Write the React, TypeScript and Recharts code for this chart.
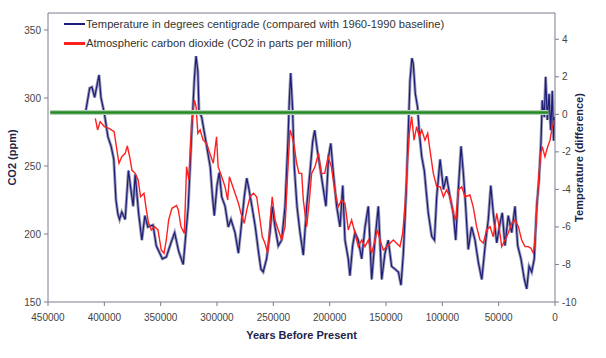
import { LineChart, Line, XAxis, YAxis, ReferenceLine } from "recharts";

// temperature difference vs 1960-1990 baseline (deg C), by years before present
const tempYears = [
  417000, 413000, 411000, 408600, 404700, 403000, 400000, 396800, 394000, 391600,
  389700, 388000, 386500, 384500, 381500, 378600, 376000, 374400, 372600, 369600,
  366700, 364000, 361400, 356800, 353900, 348500, 345000, 340600, 337600, 334000,
  330000, 325500, 322500, 320000, 318600, 317000, 316000, 313600, 310000, 306000,
  304000, 302400, 300000, 298000, 295800, 292800, 290000, 287600, 284000, 281000,
  278700, 275800, 273600, 271600, 269000, 266000, 263000, 261000, 259000, 256000,
  253000, 251000, 248500, 245600, 242600, 239600, 237000, 235800, 234600, 233000,
  231400, 229000, 226300, 223400, 220400, 217500, 215000, 213300, 211000, 208600,
  205600, 203300, 201000, 199000, 196800, 193800, 190800, 188400, 186400, 183500,
  182000, 179600, 177500, 174600, 171600, 168600, 165700, 162700, 159800, 156800,
  153800, 150900, 148000, 145000, 142000, 139000, 136700, 134600, 132000, 130000,
  128700, 127000, 125800, 124000, 122000, 120400, 118300, 116000, 112500, 109400,
  107000, 105000, 102000, 99000, 96300, 93200, 90300, 88100, 85800, 83400,
  81400, 79300, 77000, 74000, 71000, 68000, 65000, 62000, 59200, 57000,
  54800, 51700, 48800, 46800, 44400, 41500, 38400, 35500, 33100, 30200,
  27200, 25100, 23000, 20700, 18400, 16200, 14200, 12400, 11300, 9500,
  8300, 6800, 5300, 3800, 2400, 1200, 600, 0,
];
const tempValues = [
  0.0, 1.4, 1.45, 0.9, 2.1, 0.9, 0.05, -1.2, -1.7, -2.4,
  -4.55, -5.3, -5.6, -5.2, -5.6, -3.0, -4.2, -4.9, -3.2, -5.25,
  -6.7, -5.4, -6.0, -5.9, -7.0, -7.7, -7.6, -6.8, -6.3, -7.3,
  -8.0, -4.9, -1.0, 2.0, 3.1, 2.3, 0.2, -0.15, -1.4, -2.8,
  -4.4, -5.4, -3.8, -3.1, -4.4, -4.9, -6.0, -5.6, -6.3, -7.4,
  -6.1, -4.4, -3.4, -4.0, -4.9, -6.0, -7.4, -8.25, -8.4, -7.7,
  -6.3, -4.9, -6.0, -7.0, -6.7, -4.9, -1.4, 0.75, 2.2, 0.4,
  -2.8, -4.9, -6.3, -7.5, -4.9, -3.1, -1.4, -0.85, -1.9, -2.8,
  -4.0, -4.9, -2.25, -1.55, -3.1, -4.9, -6.0, -3.8, -6.7, -7.7,
  -8.6, -7.0, -6.3, -6.7, -7.7, -6.0, -4.9, -8.8, -6.7, -4.9,
  -8.8, -7.4, -6.7, -8.1, -8.25, -8.4, -9.1, -7.4, -4.0, -0.5,
  1.8, 3.0, 2.7, 1.1, 0.4, -1.0, -2.25, -3.0, -5.25, -6.5,
  -6.7, -4.4, -2.4, -4.0, -3.3, -4.4, -5.25, -6.7, -4.0, -1.7,
  -3.1, -4.9, -7.2, -6.0, -6.7, -7.9, -8.8, -7.0, -5.6, -3.8,
  -5.25, -6.85, -5.8, -5.25, -7.0, -5.4, -6.3, -4.9, -7.0, -7.7,
  -8.8, -9.3, -8.1, -8.4, -7.7, -4.9, -3.5, -1.4, 0.75, -0.15,
  2.0, -0.3, 1.1, -0.85, 1.25, -1.4, -0.15, -0.5,
];

// atmospheric CO2 (ppm), by years before present
const co2Years = [
  408000, 406000, 403700, 400000, 395800, 391300, 388400, 387000, 384500, 381500,
  379600, 377500, 375500, 372600, 370000, 367800, 364800, 362700, 360700, 358300,
  355300, 352400, 349500, 347000, 345000, 342900, 340000, 336000, 334300, 332000,
  329000, 327000, 325000, 322500, 320000, 318600, 317000, 315000, 312300, 309300,
  306300, 303300, 300400, 299000, 295800, 292900, 290500, 289000, 287000, 284000,
  281000, 278700, 275800, 273600, 270700, 267700, 264800, 261800, 259800, 257400,
  255000, 253000, 251000, 248500, 245600, 242600, 239600, 237300, 235200, 233200,
  231400, 229300, 227200, 224800, 223400, 220400, 218000, 216000, 213000, 210000,
  207400, 204400, 201400, 198500, 195500, 192400, 189500, 186400, 183500, 180500,
  177500, 174600, 171600, 168600, 165700, 162700, 159800, 157700, 155300, 152400,
  149400, 146500, 143500, 140600, 137600, 135200, 133200, 131200, 129300, 127200,
  125100, 122800, 120400, 118300, 115400, 113000, 111000, 108000, 105000, 102000,
  99000, 96300, 93200, 90300, 88100, 85800, 82800, 79900, 75500, 72600,
  69600, 66600, 63600, 60700, 57700, 54800, 51700, 49700, 47300, 44400,
  41500, 38400, 35500, 32500, 29600, 26600, 23700, 21300, 19200, 17800,
  15700, 14200, 12700, 11300, 8900, 6500, 4400, 2400, 600,
];
const co2Values = [
  285, 276.5, 282.6, 279, 277.7, 275.2, 259.3, 252, 256.8, 259.3,
  264.7, 256.8, 247, 244.6, 239.7, 227.4, 229.9, 217.6, 207.9, 203,
  205.4, 203, 188.2, 185.8, 195.6, 210.3, 218.9, 221, 217.6, 205.4,
  200.5, 249.5, 239.7, 281.4, 298.5, 293.6, 274, 276.5, 269, 266.7,
  259.3, 252, 271.5, 249.5, 242.1, 234.8, 225, 242.1, 237.3, 230,
  222.6, 215.2, 207.9, 217.6, 227.4, 229.9, 227.4, 210.3, 198, 193.2,
  185.8, 207.9, 227.4, 210.3, 203, 195.6, 205.4, 244.6, 276.5, 271.5,
  264.2, 252, 244.6, 244.6, 225, 205.4, 225, 244.6, 249.5, 259.3,
  244.6, 244.6, 256.8, 249.5, 232.4, 220, 225, 222.6, 203, 210.3,
  200.5, 190.7, 195.6, 190.7, 195.6, 185.8, 195.6, 203, 195.6, 188.2,
  190.7, 193.2, 195.6, 193.2, 190.7, 200.5, 220, 249.5, 274, 286.3,
  269, 278.9, 271.5, 276.5, 269, 274, 261.8, 244.6, 234.8, 234.8,
  227.4, 232.4, 227.4, 215.2, 210.3, 232.4, 234.8, 227.4, 228.7, 220,
  205.4, 195.6, 193.2, 203, 205.4, 198, 215.2, 205.4, 190.7, 195.6,
  200.5, 207.9, 210.3, 205.4, 195.6, 190.7, 190.7, 189.5, 185.8, 195.6,
  225, 244.6, 259.3, 264.2, 256.8, 264.2, 269, 278.9, 283.8,
];

const xTicks = [0, 50000, 100000, 150000, 200000, 250000, 300000, 350000, 400000, 450000];
const co2Ticks = [150, 200, 250, 300, 350];
const tempTicks = [-10, -8, -6, -4, -2, 0, 2, 4];

const legendNames = [
  "Temperature in degrees centigrade (compared with 1960-1990 baseline)",
  "Atmospheric carbon dioxide (CO2 in parts per million)",
];
const legendColors = ["#1c1c7a", "#ff2020"];

const tempData = tempYears.map((year, i) => ({ year, temp: tempValues[i] }));
const co2Data = co2Years.map((year, i) => ({ year, co2: co2Values[i] }));

const font = "'Liberation Sans', Arial, sans-serif";
const axisColor = "#7c7c90";
const titleColor = "#23234a";

// legend sits inside the plot frame, so it's drawn over the chart instead of via <Legend>
function ChartLegend() {
  return (
    <div
      style={{
        position: "absolute",
        left: 64,
        top: 14,
        fontFamily: font,
        fontSize: 11.2,
        color: "#333",
      }}
    >
      {legendNames.map((name, i) => (
        <div key={name} style={{ display: "flex", alignItems: "center", height: 19.5 }}>
          <span
            style={{
              display: "inline-block",
              width: 21,
              height: 2.5,
              background: legendColors[i],
              marginRight: 1,
            }}
          />
          {name}
        </div>
      ))}
    </div>
  );
}

export default function App() {
  return (
    <div style={{ position: "absolute", left: 0, top: 0, width: 606, height: 358, background: "#fff" }}>
      <LineChart
        width={606}
        height={358}
        margin={{ top: 13, right: 0, bottom: 0, left: 0 }}
        style={{ fontFamily: font }}
      >
        <XAxis
          dataKey="year"
          type="number"
          xAxisId="x"
          domain={[0, 450000]}
          ticks={xTicks}
          reversed
          allowDataOverflow
          height={56}
          tick={{ fontSize: 10, fill: "#444" }}
          tickSize={4}
          tickMargin={8}
          stroke={axisColor}
          label={{
            value: "Years Before Present",
            position: "insideTop",
            offset: 29,
            style: { fontSize: 11, fontWeight: "bold", fill: titleColor },
          }}
        />
        <YAxis
          yAxisId="co2"
          orientation="left"
          domain={[150, 362.5]}
          ticks={co2Ticks}
          allowDataOverflow
          width={48}
          tick={{ fontSize: 10, fill: "#444" }}
          tickSize={4}
          tickMargin={3}
          stroke={axisColor}
          label={{
            value: "CO2 (ppm)",
            angle: -90,
            position: "insideLeft",
            offset: 12,
            style: { textAnchor: "middle", fontSize: 11, fontWeight: "bold", fill: titleColor },
          }}
        />
        <YAxis
          yAxisId="temp"
          orientation="right"
          domain={[-10, 5.4]}
          ticks={tempTicks}
          allowDataOverflow
          width={51}
          tick={{ fontSize: 10, fill: "#444" }}
          tickSize={4}
          tickMargin={3}
          stroke={axisColor}
          label={{
            value: "Temperature (difference)",
            angle: -90,
            position: "insideRight",
            offset: 27,
            style: { textAnchor: "middle", fontSize: 11, fontWeight: "bold", fill: titleColor },
          }}
        />
        <ReferenceLine xAxisId="x" yAxisId="co2" y={362.5} stroke={axisColor} strokeWidth={1} />
        <Line
          xAxisId="x"
          yAxisId="temp"
          data={tempData}
          dataKey="temp"
          stroke="#9a9ab4"
          strokeWidth={3}
          dot={false}
          legendType="none"
          isAnimationActive={false}
        />
        <Line
          xAxisId="x"
          yAxisId="temp"
          data={tempData}
          dataKey="temp"
          name={legendNames[0]}
          stroke={legendColors[0]}
          strokeWidth={1.2}
          dot={false}
          isAnimationActive={false}
        />
        <Line
          xAxisId="x"
          yAxisId="co2"
          data={co2Data}
          dataKey="co2"
          name={legendNames[1]}
          stroke={legendColors[1]}
          strokeWidth={1.4}
          dot={false}
          isAnimationActive={false}
        />
        <ReferenceLine
          xAxisId="x"
          yAxisId="temp"
          segment={[{ x: 448000, y: 0.1 }, { x: 6000, y: 0.1 }]}
          stroke="#b4d2b4"
          strokeWidth={5}
        />
        <ReferenceLine
          xAxisId="x"
          yAxisId="temp"
          segment={[{ x: 448000, y: 0.1 }, { x: 6000, y: 0.1 }]}
          stroke="#268a26"
          strokeWidth={2.5}
        />
      </LineChart>
      <ChartLegend />
    </div>
  );
}
